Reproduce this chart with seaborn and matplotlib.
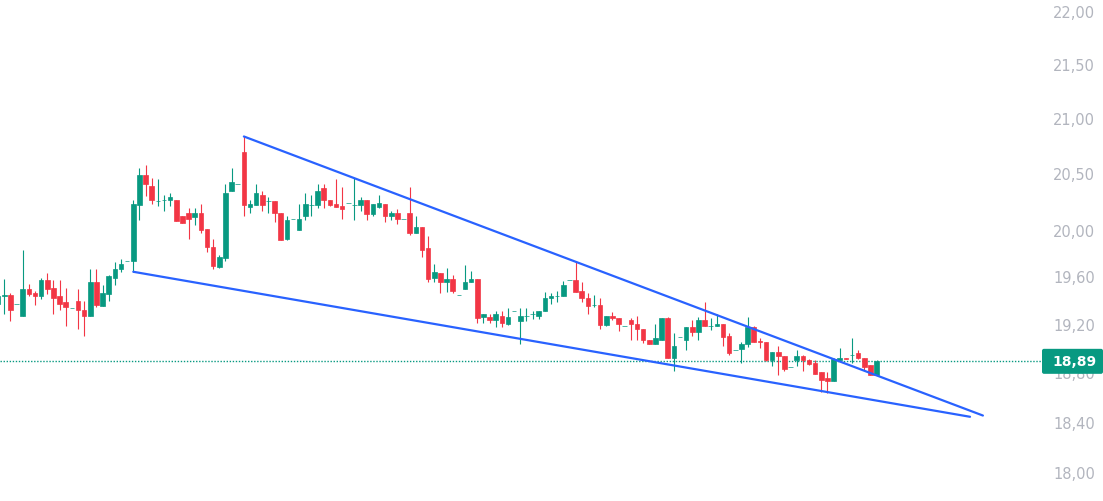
import numpy as np
import pandas as pd
import matplotlib
matplotlib.use("Agg")
import matplotlib.pyplot as plt
import matplotlib.transforms as mtransforms
from matplotlib.patches import FancyBboxPatch
from matplotlib.ticker import FixedLocator, FuncFormatter, NullLocator
import seaborn as sns

# ---------------- data ----------------
opens = [
    19.37, 19.43, 19.44, 19.37, 19.27, 19.49, 19.46, 19.43, 19.57, 19.50,
    19.43, 19.38, 19.33, 19.39, 19.32, 19.27, 19.55, 19.35, 19.45, 19.59,
    19.66, 19.73, 19.73, 20.22, 20.48, 20.39, 20.25, 20.26, 20.26, 20.26,
    20.12, 20.15, 20.11, 20.15, 20.01, 19.85, 19.68, 19.76, 20.34, 20.40,
    20.69, 20.20, 20.22, 20.31, 20.25, 20.25, 20.15, 19.92, 20.10, 20.00,
    20.12, 20.22, 20.22, 20.37, 20.26, 20.23, 20.21, 20.24, 20.22, 20.22,
    20.26, 20.14, 20.20, 20.23, 20.12, 20.15, 20.10, 20.15, 19.97, 20.03,
    19.84, 19.59, 19.63, 19.55, 19.58, 19.44, 19.49, 19.55, 19.58, 19.26,
    19.26, 19.23, 19.27, 19.20, 19.31, 19.22, 19.27, 19.28, 19.27, 19.31,
    19.42, 19.43, 19.43, 19.57, 19.57, 19.48, 19.42, 19.36, 19.36, 19.19,
    19.27, 19.25, 19.18, 19.23, 19.20, 19.16, 19.07, 19.03, 19.07, 19.25,
    18.92, 19.09, 19.07, 19.17, 19.13, 19.23, 19.18, 19.18, 19.20, 19.10,
    18.98, 18.99, 19.03, 19.17, 19.06, 19.05, 18.90, 18.97, 18.93, 18.84,
    18.90, 18.93, 18.90, 18.88, 18.80, 18.75, 18.73, 18.90, 18.92, 18.94,
    18.96, 18.92, 18.86, 18.78,
]
highs = [
    19.47, 19.58, 19.46, 19.37, 19.83, 19.54, 19.48, 19.59, 19.63, 19.57,
    19.57, 19.50, 19.33, 19.49, 19.39, 19.66, 19.66, 19.53, 19.61, 19.72,
    19.75, 19.73, 20.26, 20.55, 20.57, 20.46, 20.45, 20.31, 20.32, 20.26,
    20.12, 20.19, 20.19, 20.23, 20.01, 19.92, 19.78, 20.40, 20.55, 20.40,
    20.83, 20.26, 20.40, 20.34, 20.29, 20.25, 20.15, 20.12, 20.10, 20.23,
    20.32, 20.31, 20.40, 20.40, 20.26, 20.45, 20.38, 20.24, 20.46, 20.29,
    20.26, 20.23, 20.31, 20.23, 20.17, 20.18, 20.10, 20.38, 20.12, 20.03,
    19.95, 19.71, 19.63, 19.67, 19.61, 19.44, 19.70, 19.65, 19.58, 19.28,
    19.28, 19.31, 19.31, 19.33, 19.31, 19.33, 19.33, 19.31, 19.31, 19.47,
    19.46, 19.48, 19.56, 19.57, 19.73, 19.55, 19.46, 19.44, 19.42, 19.27,
    19.30, 19.25, 19.18, 19.25, 19.27, 19.16, 19.07, 19.20, 19.25, 19.26,
    19.12, 19.09, 19.17, 19.23, 19.26, 19.38, 19.25, 19.28, 19.20, 19.12,
    18.98, 19.05, 19.26, 19.18, 19.08, 19.05, 18.97, 19.02, 18.93, 18.84,
    18.98, 18.94, 18.91, 18.90, 18.80, 18.80, 18.92, 19.00, 18.92, 19.08,
    18.98, 18.92, 18.86, 18.90,
]
lows = [
    19.31, 19.28, 19.22, 19.37, 19.27, 19.43, 19.36, 19.41, 19.45, 19.28,
    19.32, 19.18, 19.33, 19.16, 19.10, 19.27, 19.34, 19.35, 19.39, 19.53,
    19.64, 19.73, 19.64, 20.09, 20.30, 20.23, 20.21, 20.17, 20.21, 20.08,
    20.06, 19.92, 20.04, 19.97, 19.81, 19.66, 19.67, 19.73, 20.34, 20.40,
    20.12, 20.15, 20.22, 20.17, 20.15, 20.07, 19.91, 19.91, 20.10, 20.00,
    20.09, 20.12, 20.19, 20.19, 20.21, 20.20, 20.10, 20.24, 20.09, 20.17,
    20.09, 20.12, 20.19, 20.07, 20.09, 20.05, 20.10, 19.96, 19.97, 19.77,
    19.55, 19.55, 19.46, 19.47, 19.46, 19.44, 19.49, 19.55, 19.21, 19.21,
    19.21, 19.17, 19.17, 19.19, 19.31, 19.03, 19.22, 19.24, 19.24, 19.31,
    19.37, 19.38, 19.43, 19.57, 19.47, 19.38, 19.28, 19.34, 19.16, 19.18,
    19.23, 19.14, 19.18, 19.07, 19.07, 19.04, 19.03, 19.03, 19.07, 18.92,
    18.81, 19.09, 18.98, 19.10, 19.07, 19.18, 19.15, 19.18, 19.02, 18.94,
    18.98, 18.88, 19.01, 19.05, 19.00, 18.89, 18.85, 18.78, 18.81, 18.84,
    18.85, 18.81, 18.86, 18.79, 18.64, 18.63, 18.73, 18.89, 18.91, 18.88,
    18.91, 18.82, 18.78, 18.78,
]
closes = [
    19.43, 19.44, 19.32, 19.37, 19.49, 19.45, 19.43, 19.57, 19.49, 19.42,
    19.37, 19.34, 19.33, 19.32, 19.27, 19.55, 19.36, 19.46, 19.60, 19.66,
    19.71, 19.73, 20.23, 20.48, 20.40, 20.26, 20.25, 20.26, 20.29, 20.08,
    20.06, 20.10, 20.15, 20.00, 19.85, 19.69, 19.77, 20.32, 20.42, 20.40,
    20.22, 20.23, 20.32, 20.22, 20.25, 20.15, 19.91, 20.09, 20.10, 20.10,
    20.23, 20.22, 20.34, 20.26, 20.22, 20.20, 20.18, 20.24, 20.22, 20.26,
    20.14, 20.23, 20.24, 20.12, 20.15, 20.10, 20.10, 19.97, 20.03, 19.83,
    19.58, 19.64, 19.55, 19.58, 19.48, 19.44, 19.55, 19.58, 19.25, 19.28,
    19.23, 19.28, 19.21, 19.26, 19.31, 19.27, 19.27, 19.28, 19.31, 19.42,
    19.43, 19.43, 19.53, 19.57, 19.47, 19.42, 19.35, 19.36, 19.19, 19.27,
    19.25, 19.20, 19.18, 19.20, 19.16, 19.07, 19.03, 19.08, 19.25, 18.92,
    19.02, 19.09, 19.17, 19.13, 19.23, 19.18, 19.18, 19.20, 19.09, 18.96,
    18.98, 19.03, 19.17, 19.05, 19.05, 18.90, 18.97, 18.93, 18.83, 18.84,
    18.93, 18.90, 18.87, 18.79, 18.74, 18.73, 18.91, 18.92, 18.91, 18.94,
    18.92, 18.84, 18.78, 18.89,
]

# falling-wedge trend lines (bar index, price)
upper_line_x = [40, 160.3]
upper_line_y = [20.83, 18.45]
lower_line_x = [22, 158.2]
lower_line_y = [19.64, 18.44]

price_ticks = [18.0, 18.4, 18.8, 19.2, 19.6, 20.0, 20.5, 21.0, 21.5, 22.0]
last_price = 18.89

# ---------------- style ----------------
GREEN = "#089981"
RED = "#F23645"
BLUE = "#2962FF"
LABEL_GRAY = "#B2B5BE"

sns.set_theme(style="white")
plt.rcParams["font.family"] = ["DejaVu Sans"]

W, H = 1103, 502
fig = plt.figure(figsize=(W / 100, H / 100), dpi=100)
fig.patch.set_facecolor("white")
ax = fig.add_axes([0, 0, 1, 1])
ax.set_facecolor("white")
ax.set_yscale("log")

df = pd.DataFrame({"o": opens, "h": highs, "l": lows, "c": closes})
df["x"] = np.arange(len(df))
up = (df["c"] >= df["o"]).to_numpy()
cols = np.where(up, GREEN, RED)

# wicks
ax.vlines(df["x"], df["l"], df["h"], colors=cols, linewidth=0.8, zorder=2)
# bodies
body_bottom = np.minimum(df["o"], df["c"])
body_height = np.abs(df["c"] - df["o"])
ax.bar(df["x"], body_height, bottom=body_bottom, width=0.75,
       color=cols, edgecolor=cols, linewidth=0.5, zorder=3)

# trend lines via seaborn
trend = pd.DataFrame({
    "x": upper_line_x + lower_line_x,
    "y": upper_line_y + lower_line_y,
    "line": ["upper", "upper", "lower", "lower"],
})
sns.lineplot(data=trend, x="x", y="y", units="line", estimator=None,
             color=BLUE, linewidth=1.6, ax=ax, legend=False, zorder=4)

ax.set_xlim(0.30, 179.85)
ax.set_ylim(17.777, 22.113)
ax.set_xlabel("")
ax.set_ylabel("")

# last price dotted line
ax.axhline(last_price, xmin=0, xmax=1042 / W, color=GREEN, linewidth=1.0,
           linestyle=(0, (1, 1.2)), zorder=1)

# price axis (inside, at right)
ax.yaxis.tick_right()
ax.yaxis.set_major_locator(FixedLocator(price_ticks))
ax.yaxis.set_minor_locator(NullLocator())
ax.yaxis.set_major_formatter(FuncFormatter(lambda v, p: f"{v:.2f}".replace(".", ",")))
ax.tick_params(axis="y", which="major", length=0, pad=-36, labelsize=10.5,
               labelcolor=LABEL_GRAY)
ax.tick_params(axis="y", which="minor", length=0)
ax.set_xticks([])
for s in ax.spines.values():
    s.set_visible(False)
ax.grid(False)

# last price label box
y_disp = ax.transData.transform((1, last_price))[1]
box = FancyBboxPatch((1042, y_disp - 12.5), 61, 25,
                     boxstyle="round,pad=0,rounding_size=2",
                     transform=mtransforms.IdentityTransform(),
                     facecolor=GREEN, edgecolor="none", zorder=5)
fig.add_artist(box)
fig.text(1074.5 / W, y_disp / H, f"{last_price:.2f}".replace(".", ","),
         ha="center", va="center", color="white", fontsize=10,
         fontweight="bold", zorder=6)

fig.savefig("out.png", dpi=100, facecolor="white")
